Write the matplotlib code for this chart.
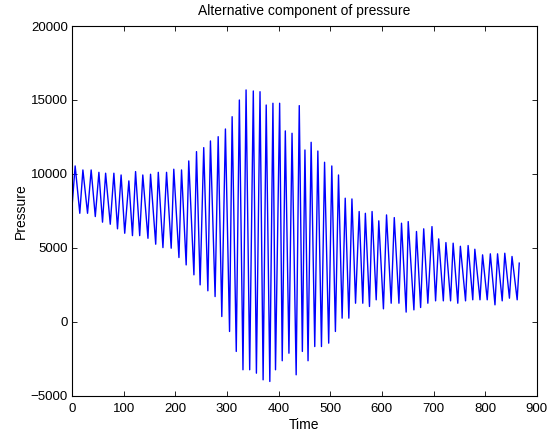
import numpy as np
import matplotlib
matplotlib.use("Agg")
import matplotlib.pyplot as plt

plt.rcParams['font.family'] = ['Liberation Sans', 'DejaVu Sans']

# turning points of the trace (time, pressure)
start_t, start_p = 0, 7800
peak_t = [6, 21, 37, 52, 65, 81, 95, 110, 123, 137, 152, 167, 183, 197, 212,
          226, 241, 255, 268, 283, 297, 310, 324, 337, 351, 364, 376, 389, 402,
          413, 426, 440, 451, 463, 476, 489, 503, 516, 529, 542, 556, 568, 581,
          594, 609, 624, 638, 651, 667, 681, 697, 710, 724, 738, 752, 767, 780,
          795, 810, 824, 838, 852]
peak_p = [10540, 10270, 10270, 10110, 10050, 10050, 9930, 9530, 10160, 9930,
          9980, 10110, 10110, 10320, 10270, 10880, 11510, 11780, 12230, 12520,
          13040, 13870, 15000, 15680, 15610, 15560, 14660, 14780, 14780, 12910,
          12750, 14620, 11620, 12140, 11550, 10790, 10540, 9930, 8360, 8310,
          7460, 7340, 7460, 6830, 7230, 7050, 6670, 6780, 6110, 6290, 6440,
          5610, 5360, 5320, 5110, 5160, 4910, 4530, 4600, 4600, 4640, 4420]
trough_t = [15, 30, 45, 59, 74, 88, 102, 117, 131, 147, 162, 176, 192, 207,
            221, 236, 248, 263, 277, 290, 305, 318, 331, 344, 357, 370, 383,
            394, 407, 420, 434, 446, 457, 470, 483, 497, 510, 523, 536, 549,
            563, 576, 589, 603, 618, 633, 647, 662, 675, 689, 704, 719, 733,
            747, 762, 776, 790, 804, 819, 833, 847, 862]
trough_p = [7340, 7340, 7120, 6740, 6600, 6290, 5990, 5830, 5830, 5650, 5250,
            5020, 4980, 4350, 3850, 3180, 2500, 2100, 1710, 360, -650, -2000,
            -3240, -3240, -3470, -3920, -4030, -3240, -2630, -2120, -3580,
            -2000, -2630, -1670, -1670, -1440, -650, 250, 250, 1260, 1260,
            1040, 1490, 880, 1260, 1260, 660, 810, 970, 1260, 1420, 1420,
            1420, 1260, 1420, 1490, 1490, 1490, 1150, 1420, 1600, 1490]
end_t, end_p = 866, 3970

t = np.concatenate([[start_t], peak_t, trough_t, [end_t]]).astype(float)
p = np.concatenate([[start_p], peak_p, trough_p, [end_p]]).astype(float)
order = np.argsort(t)
t, p = t[order], p[order]

fig = plt.figure(figsize=(5.5, 4.34), dpi=100)
ax = fig.add_axes([0.131, 0.088, 0.845, 0.852])
ax.plot(t, p, color='blue', linewidth=1.0)

ax.set_xlim(0, 900)
ax.set_ylim(-5000, 20000)
ax.set_xticks(np.arange(0, 901, 100))
ax.set_yticks(np.arange(-5000, 20001, 5000))
ax.tick_params(direction='in', top=True, right=True, length=3.5, width=0.6,
               labelsize=9.5, pad=3)
ax.tick_params(axis='x', pad=5)
for s in ax.spines.values():
    s.set_linewidth(0.8)

ax.set_title("Alternative component of pressure", fontsize=10, pad=8)
ax.set_xlabel("Time", fontsize=10, labelpad=2)
ax.set_ylabel("Pressure", fontsize=10, labelpad=2)

fig.savefig("out.png", dpi=100)
